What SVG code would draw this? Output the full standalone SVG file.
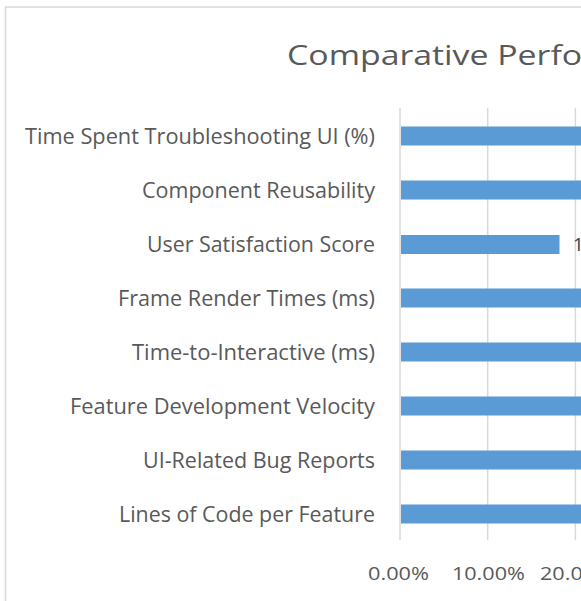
<svg xmlns="http://www.w3.org/2000/svg" width="581" height="601" viewBox="0 0 581 601">
<style>
.lbl{font-family:"Open Sans","Liberation Sans",sans-serif;font-size:21px;fill:#595959;text-anchor:end}
.ax{font-family:"Open Sans","Liberation Sans",sans-serif;font-size:18.7px;fill:#595959;text-anchor:middle}
.ttl{font-family:"Open Sans","Liberation Sans",sans-serif;font-size:28px;fill:#595959}
.grid{stroke:#d9d9d9;stroke-width:1.5}
.bar{fill:#5b9bd5}
</style>
<rect x="0" y="0" width="581" height="601" fill="#ffffff"/>
<g id="frame">
<path d="M5.5,601 V7 H581" fill="none" stroke="#d9d9d9" stroke-width="1.5"/>
</g>
<g id="title"><text class="ttl" x="287" y="65" textLength="415" lengthAdjust="spacingAndGlyphs">Comparative Performance</text></g>
<g id="gridlines">
<line class="grid" x1="400" y1="108" x2="400" y2="540"/>
<line class="grid" x1="487.7" y1="108" x2="487.7" y2="540"/>
<line class="grid" x1="575.4" y1="108" x2="575.4" y2="540"/>
</g>
<g id="bars">
<rect class="bar" x="401" y="126.5" width="190" height="19"/>
<rect class="bar" x="401" y="180.5" width="190" height="19"/>
<rect class="bar" x="401" y="235" width="158.5" height="19"/>
<rect class="bar" x="401" y="288.5" width="190" height="19"/>
<rect class="bar" x="401" y="342.5" width="190" height="19"/>
<rect class="bar" x="401" y="396.5" width="190" height="19"/>
<rect class="bar" x="401" y="450.5" width="190" height="19"/>
<rect class="bar" x="401" y="504.5" width="190" height="19"/>
</g>
<g id="data-label"><text x="573" y="251" style="font-family:'Open Sans','Liberation Sans',sans-serif;font-size:18.7px;fill:#404040">18.10%</text></g>
<g id="category-labels">
<text class="lbl" x="375" y="143.5" textLength="350" lengthAdjust="spacingAndGlyphs">Time Spent Troubleshooting UI (%)</text>
<text class="lbl" x="375" y="197.5" textLength="233" lengthAdjust="spacingAndGlyphs">Component Reusability</text>
<text class="lbl" x="375" y="252" textLength="228" lengthAdjust="spacingAndGlyphs">User Satisfaction Score</text>
<text class="lbl" x="375" y="305.5" textLength="257" lengthAdjust="spacingAndGlyphs">Frame Render Times (ms)</text>
<text class="lbl" x="375" y="359.5" textLength="243" lengthAdjust="spacingAndGlyphs">Time-to-Interactive (ms)</text>
<text class="lbl" x="375" y="413.5" textLength="305" lengthAdjust="spacingAndGlyphs">Feature Development Velocity</text>
<text class="lbl" x="375" y="467.5" textLength="232" lengthAdjust="spacingAndGlyphs">UI-Related Bug Reports</text>
<text class="lbl" x="375" y="521.5" textLength="256" lengthAdjust="spacingAndGlyphs">Lines of Code per Feature</text>
</g>
<g id="axis-labels">
<text class="ax" x="398.5" y="580" textLength="61" lengthAdjust="spacingAndGlyphs">0.00%</text>
<text class="ax" x="488.4" y="580" textLength="73" lengthAdjust="spacingAndGlyphs">10.00%</text>
<text class="ax" x="576.5" y="580" textLength="73" lengthAdjust="spacingAndGlyphs">20.00%</text>
</g>
</svg>
